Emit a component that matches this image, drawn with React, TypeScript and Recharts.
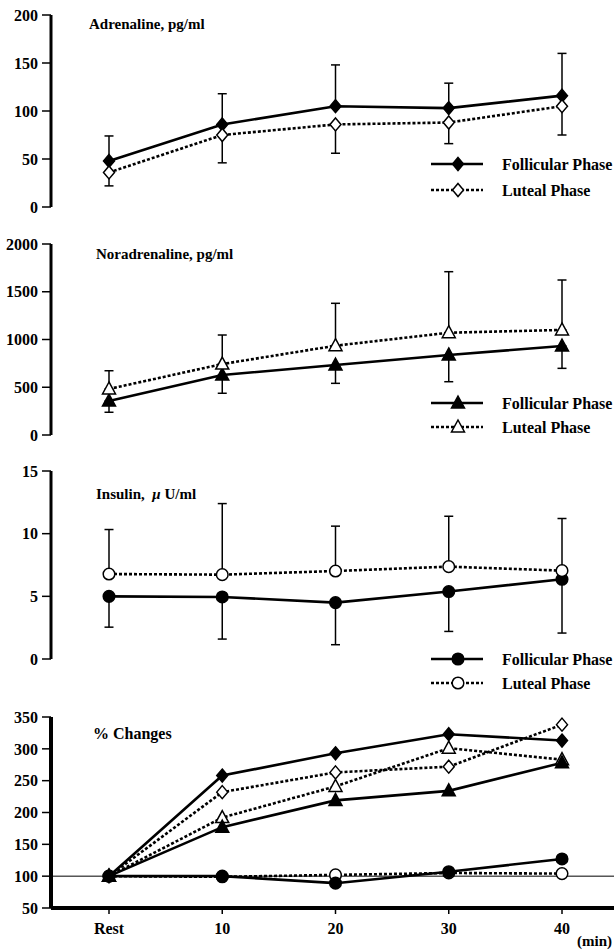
import React from 'react';
import { LineChart, Line, XAxis, YAxis, ErrorBar, ReferenceLine, Legend } from 'recharts';

const TIMES = ['Rest', '10', '20', '30', '40'];

// Adrenaline, pg/ml
const adrFol = [48, 86, 105, 103, 116];
const adrFolUpper = [74, 118, 148, 129, 160];
const adrLut = [36, 75, 86, 88, 105];
const adrLutLower = [22, 46, 56, 66, 75];
const adrTicks = [0, 50, 100, 150, 200];

// Noradrenaline, pg/ml
const norFol = [356, 628, 733, 838, 932];
const norFolLower = [238, 437, 541, 558, 698];
const norLut = [482, 743, 935, 1071, 1100];
const norLutUpper = [673, 1047, 1379, 1710, 1623];
const norTicks = [0, 500, 1000, 1500, 2000];

// Insulin, uU/ml
const insFol = [5.0, 4.95, 4.5, 5.38, 6.36];
const insFolLower = [2.54, 1.59, 1.14, 2.2, 2.07];
const insLut = [6.78, 6.73, 7.02, 7.37, 7.05];
const insLutUpper = [10.33, 12.4, 10.6, 11.39, 11.21];
const insTicks = [0, 5, 10, 15];

// % Changes
const pctAdrFol = [100, 258, 293, 323, 313];
const pctAdrLut = [100, 232, 263, 272, 338];
const pctNorFol = [100, 177, 219, 234, 278];
const pctNorLut = [100, 192, 241, 301, 283];
const pctInsFol = [100, 100, 89, 107, 127];
const pctInsLut = [100, 99, 102, 105, 104];
const pctTicks = [50, 100, 150, 200, 250, 300, 350];

const FONT = "'Liberation Serif', 'Times New Roman', Times, serif";

type ShapeKind = 'diamond' | 'triangle' | 'circle';

function Marker({ kind, cx, cy, filled }: { kind: ShapeKind; cx: number; cy: number; filled: boolean }) {
  const fill = filled ? '#000' : '#fff';
  const sw = 1.5;
  if (kind === 'diamond') {
    return <polygon points={`${cx},${cy - 6.5} ${cx + 5.5},${cy} ${cx},${cy + 6.5} ${cx - 5.5},${cy}`} fill={fill} stroke="#000" strokeWidth={sw} />;
  }
  if (kind === 'triangle') {
    return <polygon points={`${cx},${cy - 7} ${cx + 6.5},${cy + 5} ${cx - 6.5},${cy + 5}`} fill={fill} stroke="#000" strokeWidth={sw} />;
  }
  return <circle cx={cx} cy={cy} r={5.8} fill={fill} stroke="#000" strokeWidth={sw} />;
}

const dotFn = (kind: ShapeKind, filled: boolean) => (p: any) => (
  <Marker key={`d-${kind}-${filled}-${p.index}`} kind={kind} cx={p.cx} cy={p.cy} filled={filled} />
);

const SOLID = { stroke: '#000', strokeWidth: 2.6 };
const DOTTED = { stroke: '#000', strokeWidth: 2.6, strokeDasharray: '3 2' };

function LegendBox({ kind, gap }: { kind: ShapeKind; gap: number }) {
  const r1 = 13;
  const r2 = 13 + gap;
  const textStyle = { fontFamily: FONT, fontWeight: 'bold' as const, fontSize: 16, fill: '#000' };
  return (
    <svg width={190} height={r2 + 14} style={{ display: 'block' }}>
      <line x1={3} y1={r1} x2={55} y2={r1} {...SOLID} />
      <Marker kind={kind} cx={30} cy={r1} filled={true} />
      <text x={74} y={r1} dominantBaseline="central" style={textStyle}>Follicular Phase</text>
      <line x1={3} y1={r2} x2={55} y2={r2} {...DOTTED} />
      <Marker kind={kind} cx={30} cy={r2} filled={false} />
      <text x={74} y={r2} dominantBaseline="central" style={textStyle}>Luteal Phase</text>
    </svg>
  );
}

const tickStyle = { fill: '#000', fontSize: 16, fontWeight: 'bold', fontFamily: FONT };

interface PanelProps {
  top: number;
  height: number;
  mTop: number;
  mBottom: number;
  fol: number[];
  lut: number[];
  folErr: number[];
  lutErr: number[];
  folErrUp: boolean;
  ticks: number[];
  kind: ShapeKind;
  legendTop: number;
  legendGap: number;
}

function Panel(props: PanelProps) {
  const { top, height, mTop, mBottom, fol, lut, folErr, lutErr, folErrUp, ticks, kind, legendTop, legendGap } = props;
  const data = TIMES.map((t, i) => ({
    t,
    fol: fol[i],
    lut: lut[i],
    folE: folErrUp ? [0, folErr[i] - fol[i]] : [fol[i] - folErr[i], 0],
    lutE: folErrUp ? [lut[i] - lutErr[i], 0] : [0, lutErr[i] - lut[i]],
  }));
  return (
    <div style={{ position: 'absolute', left: 0, top }}>
      <LineChart width={614} height={height} data={data} margin={{ top: mTop, right: 0, bottom: mBottom, left: 0 }}>
        <XAxis dataKey="t" hide padding={{ left: 58, right: 52 }} />
        <YAxis
          domain={[ticks[0], ticks[ticks.length - 1]]}
          ticks={ticks}
          interval={0}
          width={51}
          allowDataOverflow
          axisLine={{ stroke: '#000', strokeWidth: 3 }}
          tickLine={{ stroke: '#000', strokeWidth: 1.5 }}
          tickSize={9}
          tickMargin={4}
          tick={tickStyle}
        />
        <Legend
          layout="vertical"
          align="center"
          verticalAlign="middle"
          wrapperStyle={{ left: 428, top: legendTop, width: 190 }}
          content={() => <LegendBox kind={kind} gap={legendGap} />}
        />
        <Line dataKey="fol" type="linear" {...SOLID} dot={dotFn(kind, true)} isAnimationActive={false} legendType="none">
          <ErrorBar dataKey="folE" direction="y" width={4.5} stroke="#000" strokeWidth={1.5} />
        </Line>
        <Line dataKey="lut" type="linear" {...DOTTED} dot={dotFn(kind, false)} isAnimationActive={false} legendType="none">
          <ErrorBar dataKey="lutE" direction="y" width={4.5} stroke="#000" strokeWidth={1.5} />
        </Line>
      </LineChart>
    </div>
  );
}

function PctPanel() {
  const data = TIMES.map((t, i) => ({
    t,
    aF: pctAdrFol[i],
    aL: pctAdrLut[i],
    nF: pctNorFol[i],
    nL: pctNorLut[i],
    iF: pctInsFol[i],
    iL: pctInsLut[i],
  }));
  return (
    <div style={{ position: 'absolute', left: 0, top: 700 }}>
      <LineChart width={614} height={252} data={data} margin={{ top: 17, right: 0, bottom: 4, left: 0 }}>
        <XAxis
          dataKey="t"
          padding={{ left: 58, right: 52 }}
          height={40}
          interval={0}
          axisLine={{ stroke: '#000', strokeWidth: 4 }}
          tickLine={{ stroke: '#000', strokeWidth: 1.5 }}
          tickSize={6}
          tickMargin={9}
          tick={tickStyle}
          label={{ value: '(min)', position: 'insideBottomRight', offset: 2, style: { ...tickStyle, fontSize: 15 } }}
        />
        <YAxis
          domain={[50, 350]}
          ticks={pctTicks}
          interval={0}
          width={51}
          allowDataOverflow
          axisLine={{ stroke: '#000', strokeWidth: 4 }}
          tickLine={{ stroke: '#000', strokeWidth: 1.5 }}
          tickSize={9}
          tickMargin={4}
          tick={tickStyle}
        />
        <ReferenceLine y={100} stroke="#000" strokeWidth={1} />
        <Line dataKey="iL" {...DOTTED} dot={dotFn('circle', false)} isAnimationActive={false} />
        <Line dataKey="iF" {...SOLID} dot={dotFn('circle', true)} isAnimationActive={false} />
        <Line dataKey="nL" {...DOTTED} dot={dotFn('triangle', false)} isAnimationActive={false} />
        <Line dataKey="nF" {...SOLID} dot={dotFn('triangle', true)} isAnimationActive={false} />
        <Line dataKey="aL" {...DOTTED} dot={dotFn('diamond', false)} isAnimationActive={false} />
        <Line dataKey="aF" {...SOLID} dot={dotFn('diamond', true)} isAnimationActive={false} />
      </LineChart>
    </div>
  );
}

const titleStyle: React.CSSProperties = {
  position: 'absolute',
  fontFamily: FONT,
  fontWeight: 'bold',
  fontSize: 15,
  lineHeight: '16px',
  whiteSpace: 'nowrap',
  color: '#000',
};

export default function App() {
  return (
    <div style={{ position: 'absolute', left: 0, top: 0, width: 614, height: 952, background: '#fff', overflow: 'hidden' }}>
      <Panel top={0} height={225} mTop={15} mBottom={18} fol={adrFol} lut={adrLut} folErr={adrFolUpper} lutErr={adrLutLower}
        folErrUp={true} ticks={adrTicks} kind="diamond" legendTop={151} legendGap={26} />
      <Panel top={225} height={225} mTop={19} mBottom={15} fol={norFol} lut={norLut} folErr={norFolLower} lutErr={norLutUpper}
        folErrUp={false} ticks={norTicks} kind="triangle" legendTop={165} legendGap={24} />
      <Panel top={450} height={250} mTop={21} mBottom={41} fol={insFol} lut={insLut} folErr={insFolLower} lutErr={insLutUpper}
        folErrUp={false} ticks={insTicks} kind="circle" legendTop={196} legendGap={24} />
      <PctPanel />
      <div style={{ ...titleStyle, left: 89, top: 16 }}>Adrenaline, pg/ml</div>
      <div style={{ ...titleStyle, left: 96, top: 246 }}>Noradrenaline, pg/ml</div>
      <div style={{ ...titleStyle, left: 96, top: 486 }}>Insulin,&nbsp;&nbsp;<i>μ</i> U/ml</div>
      <div style={{ ...titleStyle, left: 93, top: 726, fontSize: 16 }}>% Changes</div>
    </div>
  );
}
